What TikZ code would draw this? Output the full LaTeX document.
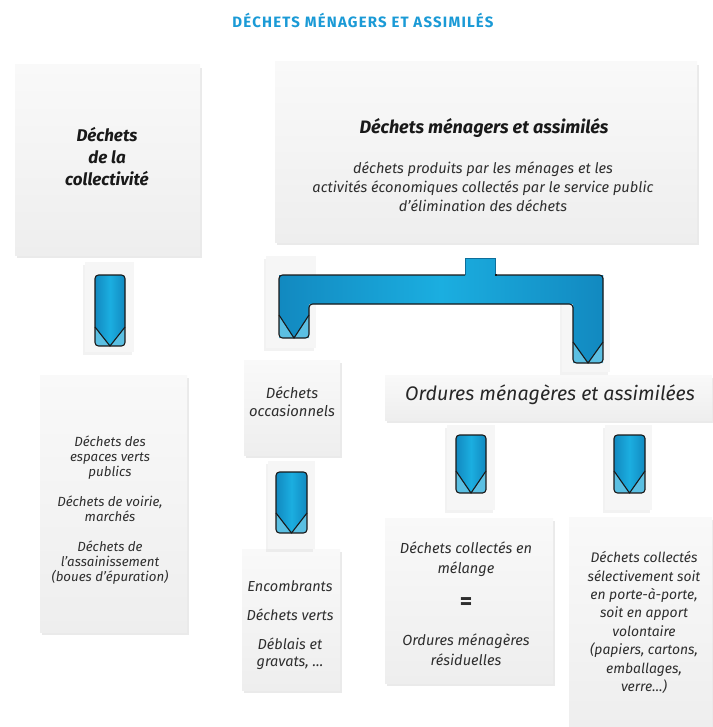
\documentclass[tikz,border=0pt]{standalone}
\usepackage{fontspec}
\setmainfont{Fira Sans}
\usetikzlibrary{shadows}
\definecolor{titleblue}{HTML}{1A9AD6}
\definecolor{ablue}{HTML}{1BAEE0}
\definecolor{ablueD}{HTML}{1289C0}
\definecolor{ablueL}{HTML}{5BBFE2}
\definecolor{paperT}{HTML}{F9F9F9}
\definecolor{paperB}{HTML}{EEEEEE}
\definecolor{txt}{HTML}{2E2E2E}
\tikzset{
  paper/.style={rectangle, inner sep=0pt, top color=paperT, bottom color=paperB, draw=none,
    drop shadow={opacity=0.16, shadow xshift=2pt, shadow yshift=-3pt}},
  panel/.style={fill=paperB!50!white, draw=none,
    drop shadow={opacity=0.10, shadow xshift=-2pt, shadow yshift=-3pt}},
  body/.style={align=center, text=txt, inner sep=0pt, font=\fontsize{13.3}{15}\selectfont\itshape},
  head/.style={align=center, text=black!90, inner sep=0pt, font=\fontsize{17}{22}\selectfont\bfseries\itshape},
  aline/.style={draw=black!90, line width=1.1pt, line join=round},
}
\newcommand\dwnarrow[5]{%
  \begin{scope}
    \path[clip, rounded corners=3.5] (#1,#2) rectangle (#3,#4);
    \fill[ablueL] (#1,#2) rectangle (#3,#4);
    \shade[left color=ablueD, right color=ablueD, middle color=ablue]
      (#1,#2) -- (#3,#2) -- (#3,#4-#5) -- ({(#1+#3)/2},#4) -- (#1,#4-#5) -- cycle;
  \end{scope}
  \draw[aline, rounded corners=3.5] (#1,#2) rectangle (#3,#4);
  \draw[aline] (#1,#4-#5) -- ({(#1+#3)/2},#4) -- (#3,#4-#5);
}
\begin{document}
\begin{tikzpicture}[x=1pt, y=-1pt]
\useasboundingbox[fill=white] (0,0) rectangle (712,727);

% title
\node[font=\fontsize{15}{17}\selectfont\bfseries\addfontfeatures{LetterSpace=8}, text=titleblue] (title) at (363,20) {DÉCHETS MÉNAGERS ET ASSIMILÉS};

% paper boxes
\node[paper, minimum width=185, minimum height=190] (colle) at (107.5,160) {};
\node[paper, minimum width=422, minimum height=180] (dma) at (486,152) {};
\node[paper, minimum width=147, minimum height=257] (collbox) at (113.5,503.5) {};
\node[paper, minimum width=96, minimum height=95] (occ) at (292,407.5) {};
\node[paper, minimum width=327, minimum height=45] (oma) at (548.5,397.5) {};
\node[paper, minimum width=98, minimum height=141] (enc) at (291,619.5) {};
\node[paper, minimum width=168, minimum height=165] (mel) at (469,600.5) {};
\node[paper, minimum width=143, minimum height=212] (sel) at (640.5,623) {};

% panels behind arrows
\fill[panel] (85,262) rectangle (134,352);
\fill[panel] (447,425) rectangle (495,510);
\fill[panel] (605,425) rectangle (652,510);
\fill[panel] (268,461) rectangle (315,549);
\fill[panel] (266,256) rectangle (316,348);
\fill[panel] (562,300) rectangle (610,372);

% texts
\node[head] (t-colle) at (107,156.5) {Déchets\\de la\\collectivité};
\node[head, font=\fontsize{18}{20}\selectfont\bfseries\itshape] (t-dma) at (484,128) {Déchets ménagers et assimilés};
\node[body, font=\fontsize{14.6}{19}\selectfont\itshape] (t-dmadesc) at (483,187) {déchets produits par les ménages et les\\activités économiques collectés par le service public\\d’élimination des déchets};
\node[body] (t-collbox) at (110,510.5) {Déchets des\\espaces verts\\publics\\[15pt]Déchets de voirie,\\marchés\\[15pt]Déchets de\\l’assainissement\\(boues d’épuration)};
\node[body, font=\fontsize{14.8}{18}\selectfont\itshape] (t-occ) at (292,402) {Déchets\\occasionnels};
\node[body, font=\fontsize{19.6}{22}\selectfont\itshape, text=black!85] (t-oma) at (550,395) {Ordures ménagères et assimilées};
\node[body, font=\fontsize{14.5}{17}\selectfont\itshape] (t-enc) at (290,625) {Encombrants\\[12pt]Déchets verts\\[12pt]Déblais et\\gravats, …};
\node[body, font=\fontsize{14.6}{20}\selectfont\itshape] (t-mel) at (466,603.5) {Déchets collectés en\\mélange\\[16pt]{\fontsize{24}{20}\selectfont\bfseries\upshape =}\\[16pt]Ordures ménagères\\résiduelles};
\node[body, font=\fontsize{13.9}{18.4}\selectfont\itshape] (t-sel) at (644,622.5) {Déchets collectés\\sélectivement soit\\en porte-à-porte,\\soit en apport\\volontaire\\(papiers, cartons,\\emballages,\\verre…)};

% bracket
\begin{scope}
  \path[clip] (465,258) -- (495,258) -- (495,275) -- (603,275) -- (603,363) -- (573,363) -- (573,304)
    -- (309,304) -- (309,338) -- (279,338) -- (279,275) -- (465,275) -- cycle;
  \fill[ablueL] (270,250) rectangle (610,370);
  \shade[left color=ablueD, right color=ablueD, middle color=ablue]
    (465,258) -- (495,258) -- (495,275) -- (603,275) -- (603,342) -- (588,363) -- (573,342) -- (573,304)
    -- (309,304) -- (309,315) -- (294,338) -- (279,315) -- (279,275) -- (465,275) -- cycle;
\end{scope}
\draw[draw=ablueD!80!black, line width=0.6pt] (465,275) -- (465,258) -- (495,258) -- (495,275);
\draw[aline, rounded corners=3.5] (495,275) -- (603,275) -- (603,363) -- (573,363) -- (573,304)
    -- (309,304) -- (309,338) -- (279,338) -- (279,275) -- (465,275);
\draw[aline] (495,275) -- (497,275);
\draw[aline] (279,315) -- (294,338) -- (309,315);
\draw[aline] (573,342) -- (588,363) -- (603,342);

% arrows
\dwnarrow{95}{275}{125}{346}{19}
\dwnarrow{456}{435}{486}{493}{22}
\dwnarrow{614}{435}{645}{493}{22}
\dwnarrow{276}{472}{307}{533}{20}
\end{tikzpicture}
\end{document}
